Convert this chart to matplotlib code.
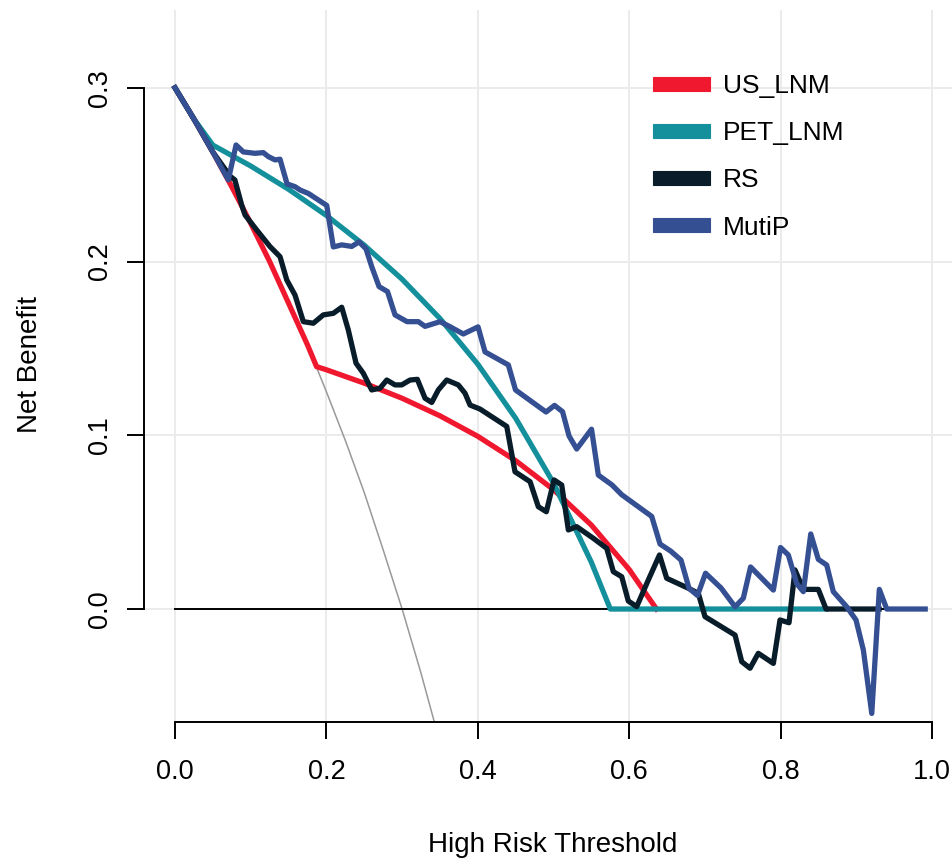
import matplotlib
matplotlib.use('Agg')
import matplotlib.pyplot as plt
from matplotlib.patches import Patch

plt.rcParams['font.family'] = ['Liberation Sans', 'DejaVu Sans']

# treat-all reference curve
all_x = [0.0, 0.025, 0.05, 0.075, 0.1, 0.125, 0.15, 0.175, 0.2, 0.225, 0.25, 0.275, 0.3, 0.325, 0.35]
all_y = [0.300, 0.282, 0.263, 0.243, 0.222, 0.200, 0.176, 0.152, 0.125, 0.097, 0.067, 0.034, 0.000, -0.037, -0.077]

# treat-none reference
none_x = [0.0, 0.99]
none_y = [0.0, 0.0]

us_x = [0.0, 0.025, 0.05, 0.075, 0.1, 0.125, 0.15, 0.175, 0.187, 0.2, 0.25, 0.3, 0.35, 0.4, 0.45,
        0.5, 0.55, 0.6, 0.636]
us_y = [0.300, 0.282, 0.263, 0.243, 0.222, 0.200, 0.176, 0.152, 0.1395, 0.1377, 0.130, 0.1213, 0.1112,
        0.0994, 0.0854, 0.0687, 0.0483, 0.0227, 0.0]

pet_x = [0.0, 0.025, 0.05, 0.1, 0.15, 0.2, 0.25, 0.3, 0.35, 0.4, 0.45, 0.5, 0.55, 0.575, 0.86]
pet_y = [0.300, 0.282, 0.267, 0.255, 0.2416, 0.2265, 0.2094, 0.1898, 0.1672, 0.1409, 0.1098, 0.0725,
         0.0269, 0.0, 0.0]

rs_x = [0.0, 0.025, 0.05, 0.073, 0.079, 0.088, 0.0925, 0.108, 0.1255, 0.1387, 0.1476, 0.1585, 0.1695,
        0.1827, 0.1959, 0.2091, 0.2202, 0.2289, 0.2391, 0.2487, 0.2598, 0.2708, 0.2797, 0.2906, 0.2995,
        0.3104, 0.3201, 0.3303, 0.3391, 0.3478, 0.3589, 0.3742, 0.3831, 0.3897, 0.4029, 0.4382, 0.4491,
        0.4690, 0.4799, 0.4905, 0.5007, 0.5108, 0.5196, 0.5306, 0.5526, 0.5703, 0.5790, 0.5901, 0.5988,
        0.6099, 0.6252, 0.6400, 0.6495, 0.6803, 0.6913, 0.7001, 0.7398, 0.7486, 0.7596, 0.7705, 0.7904,
        0.7992, 0.8111, 0.8190, 0.8300, 0.8498, 0.8600, 0.93]
rs_y = [0.300, 0.282, 0.263, 0.249, 0.247, 0.2326, 0.2268, 0.2181, 0.2086, 0.2028, 0.1894, 0.1807, 0.1654,
        0.1645, 0.1693, 0.1702, 0.1737, 0.1606, 0.1415, 0.1357, 0.1261, 0.1271, 0.1318, 0.1290, 0.1290,
        0.1318, 0.1322, 0.1213, 0.1189, 0.1261, 0.1318, 0.1290, 0.1242, 0.1174, 0.1151, 0.1051, 0.0790,
        0.0733, 0.0589, 0.0560, 0.0743, 0.0714, 0.0455, 0.0474, 0.0407, 0.0349, 0.0215, 0.0186, 0.0046,
        0.0014, 0.0167, 0.0311, 0.0177, 0.0115, 0.0090, -0.0044, -0.0150, -0.0303, -0.0341, -0.0255, -0.0313,
        -0.0063, -0.0079, 0.0225, 0.0113, 0.0113, 0.0, 0.0]

mutip_x = [0.0, 0.025, 0.05, 0.0704, 0.0806, 0.0902, 0.1057, 0.1166, 0.1233, 0.1321, 0.1387, 0.1480,
           0.1585, 0.1651, 0.1761, 0.2004, 0.2091, 0.2202, 0.2334, 0.2431, 0.2523, 0.2598, 0.2695, 0.2807,
           0.2906, 0.3065, 0.3214, 0.3303, 0.3501, 0.3633, 0.3808, 0.4003, 0.4095, 0.4403, 0.4498, 0.4901,
           0.5013, 0.5119, 0.5205, 0.5306, 0.5502, 0.5592, 0.5773, 0.5901, 0.6297, 0.6407, 0.6546, 0.6684,
           0.6790, 0.6902, 0.7008, 0.7213, 0.7398, 0.7507, 0.7603, 0.7904, 0.7999, 0.8102, 0.8213, 0.8300,
           0.8398, 0.8498, 0.8609, 0.8696, 0.8873, 0.8996, 0.9093, 0.9204, 0.9304, 0.9402, 0.991]
mutip_y = [0.300, 0.282, 0.263, 0.247, 0.2671, 0.2631, 0.2623, 0.2627, 0.2604, 0.2585, 0.2589, 0.2447,
           0.2431, 0.2412, 0.2392, 0.2323, 0.2084, 0.2096, 0.2087, 0.2113, 0.2073, 0.1971, 0.1856, 0.1827,
           0.1693, 0.1654, 0.1654, 0.1627, 0.1654, 0.1625, 0.1583, 0.1624, 0.1480, 0.1405, 0.1261, 0.1134,
           0.1172, 0.1136, 0.0996, 0.0921, 0.1035, 0.0771, 0.0714, 0.0658, 0.0533, 0.0374, 0.0334, 0.0282,
           0.0119, 0.0078, 0.0206, 0.0121, 0.0013, 0.0062, 0.0242, 0.0109, 0.0354, 0.0311, 0.0146, 0.0100,
           0.0432, 0.0286, 0.0253, 0.0100, 0.0013, -0.0063, -0.0236, -0.0601, 0.0113, 0.0, 0.0]

model_names = ['US_LNM', 'PET_LNM', 'RS', 'MutiP']
model_colors = ['#F0182E', '#13909B', '#081C2A', '#354F93']

x_ticks = [0.0, 0.2, 0.4, 0.6, 0.8, 1.0]
y_ticks = [0.0, 0.1, 0.2, 0.3]


def render_decision_curves(dest: str = 'out.png'):
    fig = plt.figure(figsize=(9.52, 8.61), dpi=100)
    ax = fig.add_axes([144 / 952, 0.1609, 1 - 144 / 952, 0.9884 - 0.1609])

    ax.set_xlim(-0.041, 1.0264)
    ax.set_ylim(-0.0653, 0.3448)

    ax.set_xticks(x_ticks)
    ax.set_yticks(y_ticks)
    ax.set_xticklabels([f'{v:.1f}' for v in x_ticks])
    ax.set_yticklabels([f'{v:.1f}' for v in y_ticks], rotation=90, va='center')
    ax.grid(True, color='#EBEBEB', linewidth=1.4, zorder=0)
    ax.set_axisbelow(True)

    for side in ('top', 'right'):
        ax.spines[side].set_visible(False)
    ax.spines['left'].set_bounds(0, 0.3)
    ax.spines['bottom'].set_bounds(0, 1)
    for side in ('left', 'bottom'):
        ax.spines[side].set_linewidth(1.4)
    ax.tick_params(axis='both', direction='out', length=12, width=1.4, labelsize=19.5)
    ax.tick_params(axis='x', pad=14)
    ax.tick_params(axis='y', pad=10)

    ax.plot(all_x, all_y, color='#999999', linewidth=1.1, zorder=2)
    ax.plot(none_x, none_y, color='black', linewidth=1.4, zorder=2)

    series = [(us_x, us_y), (pet_x, pet_y), (rs_x, rs_y), (mutip_x, mutip_y)]
    for (xs, ys), color in zip(series, model_colors):
        ax.plot(xs, ys, color=color, linewidth=3.8, solid_joinstyle='round', zorder=3)

    handles = [Patch(facecolor=c, edgecolor=c, linewidth=0.8) for c in model_colors]
    ax.legend(handles, model_names, loc='upper left', bbox_to_anchor=(653 / 952, 1 - 74 / 861),
              bbox_transform=fig.transFigure, frameon=False, fontsize=19,
              handlelength=2.15, handleheight=0.45, handletextpad=0.5,
              labelspacing=0.88, borderpad=0, borderaxespad=0)

    fig.text(553 / 952, 1 - 845 / 861, 'High Risk Threshold', fontsize=20, ha='center', va='center')
    fig.text(30 / 952, 1 - 364 / 861, 'Net Benefit', fontsize=20, ha='center', va='center', rotation=90)

    fig.savefig(dest, dpi=100)


if __name__ == '__main__':
    render_decision_curves()
